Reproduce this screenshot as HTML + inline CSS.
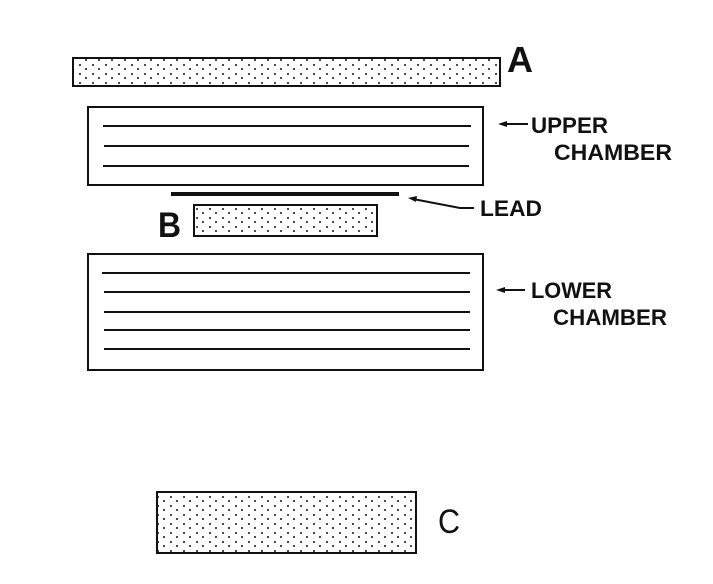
<!DOCTYPE html>
<html><head><style>body{margin:0;background:#fff}svg{display:block}text{font-family:"Liberation Sans",sans-serif;fill:#111}</style></head><body>
<svg width="713" height="584" viewBox="0 0 713 584">
<defs><pattern id="d" width="13" height="9" patternUnits="userSpaceOnUse">
<circle cx="2" cy="2" r="1" fill="#111"/><circle cx="8" cy="6" r="1" fill="#111"/></pattern></defs>
<g stroke="#111" fill="none" stroke-width="2">
<rect x="73" y="58" width="427" height="28" fill="url(#d)"/>
<rect x="88" y="107" width="395" height="78"/>
<line x1="103" y1="126" x2="471" y2="126"/><line x1="104" y1="146" x2="469" y2="146"/><line x1="103" y1="166" x2="469" y2="166"/>
<line x1="171" y1="194" x2="399" y2="194" stroke-width="4"/>
<rect x="194" y="205" width="183" height="31" fill="url(#d)"/>
<rect x="88" y="254" width="395" height="116"/>
<line x1="102" y1="273" x2="470" y2="273"/><line x1="104" y1="292" x2="470" y2="292"/><line x1="104" y1="312" x2="470" y2="312"/><line x1="104" y1="330" x2="470" y2="330"/><line x1="104" y1="349" x2="470" y2="349"/>
<rect x="157" y="492" width="259" height="61" fill="url(#d)"/>
<line x1="503" y1="124" x2="528" y2="124"/>
<line x1="501" y1="290" x2="525" y2="290"/>
<polyline points="413,199 460,208 474,208"/>
</g>
<g fill="#111"><polygon points="498,124 507,121 507,127"/><polygon points="496,290 505,287 505,293"/><polygon points="408,198 417,196 416,202"/></g>
<text x="507" y="72" font-size="36" font-weight="bold" textLength="26" lengthAdjust="spacingAndGlyphs">A</text>
<text x="158" y="237" font-size="35" font-weight="bold" textLength="23" lengthAdjust="spacingAndGlyphs">B</text>
<text x="438" y="533" font-size="34" textLength="22" lengthAdjust="spacingAndGlyphs">C</text>
<g font-size="22" font-weight="bold">
<text x="531" y="133" textLength="77" lengthAdjust="spacingAndGlyphs">UPPER</text>
<text x="554" y="160" textLength="118" lengthAdjust="spacingAndGlyphs">CHAMBER</text>
<text x="480" y="216" textLength="62" lengthAdjust="spacingAndGlyphs">LEAD</text>
<text x="531" y="298" textLength="81" lengthAdjust="spacingAndGlyphs">LOWER</text>
<text x="553" y="325" textLength="114" lengthAdjust="spacingAndGlyphs">CHAMBER</text>
</g>
</svg></body></html>
